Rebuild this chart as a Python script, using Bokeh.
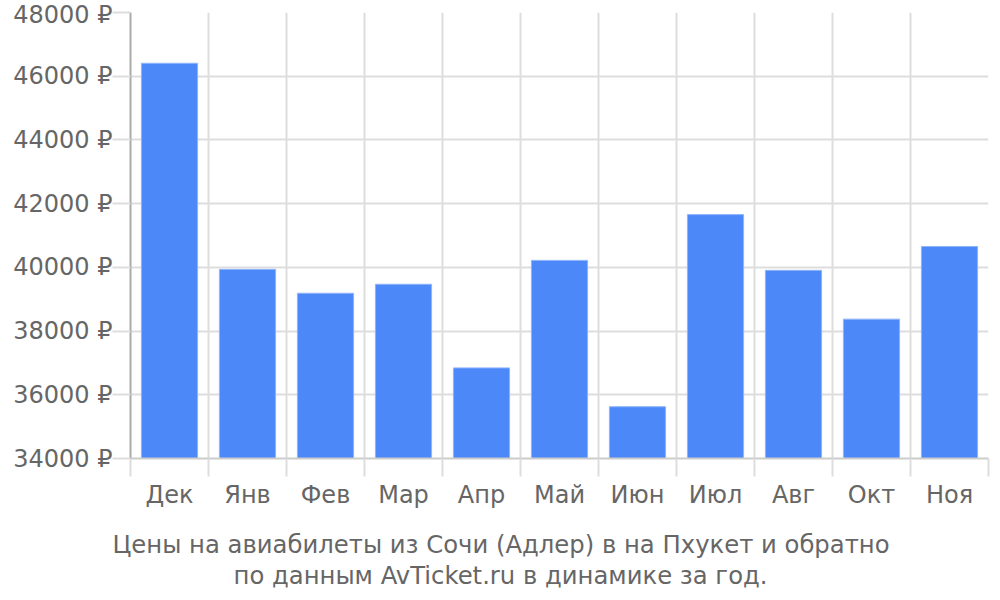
from bokeh.plotting import figure
from bokeh.models import FixedTicker, Range1d, Title
from bokeh.embed import file_html
from bokeh.resources import INLINE

months = ["Дек", "Янв", "Фев", "Мар", "Апр", "Май", "Июн", "Июл", "Авг", "Окт", "Ноя"]
prices = [46406, 39937, 39187, 39469, 36844, 40219, 35625, 41656, 39906, 38375, 40656]
y_ticks = [34000, 36000, 38000, 40000, 42000, 44000, 46000, 48000]
title_lines = ["Цены на авиабилеты из Сочи (Адлер) в на Пхукет и обратно",
               "по данным AvTicket.ru в динамике за год."]

FONT = "DejaVu Sans"
TXT = "#666666"
FS = "24px"
n = len(months)
xs = [i + 0.5 for i in range(n)]

p = figure(width=990, height=584, frame_width=858, frame_height=446,
           x_range=Range1d(0, n), y_range=Range1d(34000, 48000),
           output_backend="svg", toolbar_location=None,
           min_border_left=130, min_border_right=2, min_border_top=12, min_border_bottom=40)
p.outline_line_color = None
p.background_fill_color = "white"

p.vbar(x=xs, top=prices, bottom=34000, width=0.72, fill_color="#4d88f9",
       line_color="#8fb4fb", line_width=1)

# x axis
p.xaxis.ticker = FixedTicker(ticks=xs, minor_ticks=list(range(n + 1)))
p.xaxis.major_label_overrides = {x: m for x, m in zip(xs, months)}
p.xaxis.major_tick_out = 0
p.xaxis.major_tick_in = 0
p.xaxis.minor_tick_out = 18
p.xaxis.minor_tick_in = 0
p.xaxis.minor_tick_line_color = "#dddddd"
p.xaxis.minor_tick_line_width = 2
p.xaxis.axis_line_color = "#cccccc"
p.xaxis.axis_line_width = 2
p.xaxis.major_label_standoff = 4
p.xaxis.major_label_text_font = FONT
p.xaxis.major_label_text_font_size = FS
p.xaxis.major_label_text_color = TXT

p.xgrid.ticker = FixedTicker(ticks=list(range(n + 1)))
p.xgrid.grid_line_color = "#dddddd"
p.xgrid.grid_line_width = 2

# y axis
p.yaxis.ticker = FixedTicker(ticks=y_ticks)
p.yaxis.major_label_overrides = {t: f"{t} ₽" for t in y_ticks}
p.yaxis.major_tick_out = 18
p.yaxis.major_tick_in = 0
p.yaxis.major_tick_line_color = "#dddddd"
p.yaxis.major_tick_line_width = 2
p.yaxis.minor_tick_line_color = None
p.yaxis.axis_line_color = "#aaaaaa"
p.yaxis.axis_line_width = 2
p.yaxis.major_label_standoff = 0
p.yaxis.major_label_text_font = FONT
p.yaxis.major_label_text_font_size = FS
p.yaxis.major_label_text_color = TXT
p.ygrid.grid_line_color = "#dddddd"
p.ygrid.grid_line_width = 2

# spacer between axis labels and the caption
p.add_layout(Title(text=" ", text_font_size="12px", standoff=0), "below")

offsets = [-18, 103]
for line, off in zip(title_lines, offsets):
    t = Title(text=line, align="left", offset=off, text_font=FONT,
              text_font_size="24.3px", text_color=TXT, text_font_style="normal",
              standoff=0)
    p.add_layout(t, "below")

open("out.html", "w").write(file_html(p, INLINE))
